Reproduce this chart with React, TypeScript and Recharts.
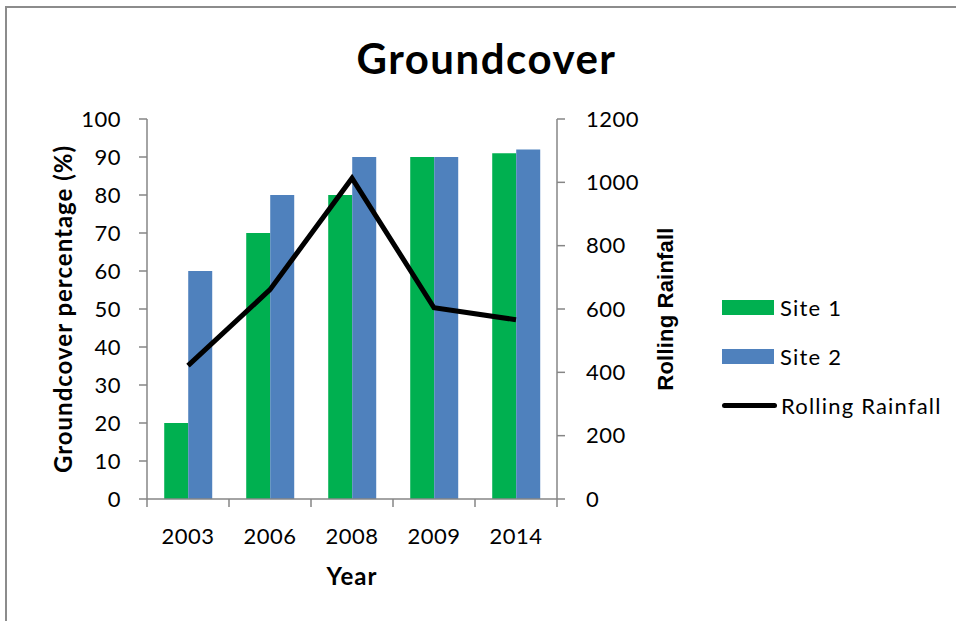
import React from 'react';
import {
	Bar,
	ComposedChart,
	Legend,
	Line,
	XAxis,
	YAxis,
} from 'recharts';

const years = ['2003', '2006', '2008', '2009', '2014'];
const site1 = [20, 70, 80, 90, 91];
const site2 = [60, 80, 90, 90, 92];
const rollingRainfall = [421, 661, 1013, 604, 566];

const leftTicks = [0, 10, 20, 30, 40, 50, 60, 70, 80, 90, 100];
const rightTicks = [0, 200, 400, 600, 800, 1000, 1200];

const data = years.map((year, i) => ({
	year,
	site1: site1[i],
	site2: site2[i],
	rainfall: rollingRainfall[i],
}));

const FONT = 'Lato, "Open Sans", sans-serif';
const AXIS = '#868686';

function YearTick(props: any) {
	const { x, y, payload, index, visibleTicksCount } = props;
	const half = payload.offset || 41;
	const top = y - 8;
	return (
		<g>
			<line x1={x - half} y1={top} x2={x - half} y2={top + 8} stroke={AXIS} strokeWidth={1.5} />
			{index === visibleTicksCount - 1 && (
				<line x1={x + half} y1={top} x2={x + half} y2={top + 8} stroke={AXIS} strokeWidth={1.5} />
			)}
			<text x={x} y={top + 36} textAnchor="middle" dominantBaseline="central" fill="#000" fontSize={22} letterSpacing={0.5} fontFamily={FONT}>
				{payload.value}
			</text>
		</g>
	);
}

function SideLabel(props: any) {
	const { viewBox, value, dx, font, size, spacing } = props;
	const cx = viewBox.x + dx;
	const cy = viewBox.y + viewBox.height / 2;
	return (
		<text
			x={cx}
			y={cy}
			transform={`rotate(-90, ${cx}, ${cy})`}
			textAnchor="middle"
			dominantBaseline="central"
			fontWeight="bold"
			fontSize={size}
			letterSpacing={spacing}
			fontFamily={font}
			fill="#000"
		>
			{value}
		</text>
	);
}

function YearLabel(props: any) {
	const { viewBox } = props;
	return (
		<text
			x={viewBox.x + viewBox.width / 2}
			y={575}
			textAnchor="middle"
			dominantBaseline="central"
			fontWeight="bold"
			fontSize={24}
			letterSpacing={1}
			fontFamily={FONT}
			fill="#000"
		>
			Year
		</text>
	);
}

function renderLegend(props: any) {
	const { payload } = props;
	const order = ['site1', 'site2', 'rainfall'];
	const items = order
		.map((k) => payload.find((p: any) => p.dataKey === k))
		.filter(Boolean);
	return (
		<div style={{ fontFamily: FONT, fontSize: 22, letterSpacing: 1.2, color: '#000' }}>
			{items.map((entry: any) => (
				<div key={entry.dataKey} style={{ display: 'flex', alignItems: 'center', height: 49 }}>
					{entry.type === 'line' ? (
						<div style={{ width: 55, height: 5, borderRadius: 3, background: entry.color, marginRight: 4 }} />
					) : (
						<div style={{ width: 52, height: 15, background: entry.color, marginRight: 6 }} />
					)}
					<span>{entry.value}</span>
				</div>
			))}
		</div>
	);
}

export default function App() {
	return (
		<div style={{ position: 'absolute', left: 0, top: 0, width: 956, height: 621, background: '#fff', overflow: 'hidden' }}>
			<div
				style={{
					position: 'absolute',
					left: 5,
					top: 6,
					width: 1000,
					height: 700,
					border: '2px solid #8c8c8c',
				}}
			/>
			<div
				style={{
					position: 'absolute',
					left: 0,
					top: 33,
					width: 973,
					textAlign: 'center',
					fontFamily: FONT,
					fontWeight: 'bold',
					fontSize: 42,
					letterSpacing: 1.5,
					lineHeight: '50px',
					color: '#000',
				}}
			>
				Groundcover
			</div>
			<div style={{ position: 'absolute', left: 0, top: 0 }}>
				<ComposedChart
					width={956}
					height={621}
					data={data}
					margin={{ top: 119, right: 0, bottom: 0, left: 0 }}
					barCategoryGap="21%"
					barGap={0}
				>
					<XAxis
						dataKey="year"
						xAxisId="x"
						height={122}
						axisLine={{ stroke: AXIS, strokeWidth: 1.5 }}
						tickLine={false}
						tick={<YearTick />}
						interval={0}
						label={<YearLabel />}
					/>
					<YAxis
						yAxisId="left"
						orientation="left"
						width={147}
						domain={[0, 100]}
						ticks={leftTicks}
						interval={0}
						axisLine={{ stroke: AXIS, strokeWidth: 1.5 }}
						tickLine={{ stroke: AXIS, strokeWidth: 1.5 }}
						tickSize={8}
						tickMargin={18}
						tick={{ fill: '#000', fontSize: 22, fontFamily: FONT, letterSpacing: 0.5 }}
						label={<SideLabel value="Groundcover percentage (%)" dx={62} font={FONT} size={24} spacing={1} />}
					/>
					<YAxis
						yAxisId="right"
						orientation="right"
						width={399}
						domain={[0, 1200]}
						ticks={rightTicks}
						interval={0}
						axisLine={{ stroke: AXIS, strokeWidth: 1.5 }}
						tickLine={{ stroke: AXIS, strokeWidth: 1.5 }}
						tickSize={8}
						tickMargin={21}
						tick={{ fill: '#000', fontSize: 22, fontFamily: FONT, letterSpacing: 0.5 }}
						label={<SideLabel value="Rolling Rainfall" dx={108} font='"Liberation Sans", Arial, sans-serif' size={22} spacing={0.2} />}
					/>
					<Legend
						layout="vertical"
						align="center"
						verticalAlign="middle"
						content={renderLegend}
						wrapperStyle={{ left: 722, top: 283, width: 234 }}
					/>
					<Bar dataKey="site1" name="Site 1" xAxisId="x" yAxisId="left" fill="#00B050" isAnimationActive={false} />
					<Bar dataKey="site2" name="Site 2" xAxisId="x" yAxisId="left" fill="#4F81BD" isAnimationActive={false} />
					<Line
						dataKey="rainfall"
						name="Rolling Rainfall"
						xAxisId="x"
						yAxisId="right"
						type="linear"
						stroke="#000"
						strokeWidth={5}
						dot={false}
						activeDot={false}
						legendType="line"
						isAnimationActive={false}
					/>
				</ComposedChart>
			</div>
		</div>
	);
}
